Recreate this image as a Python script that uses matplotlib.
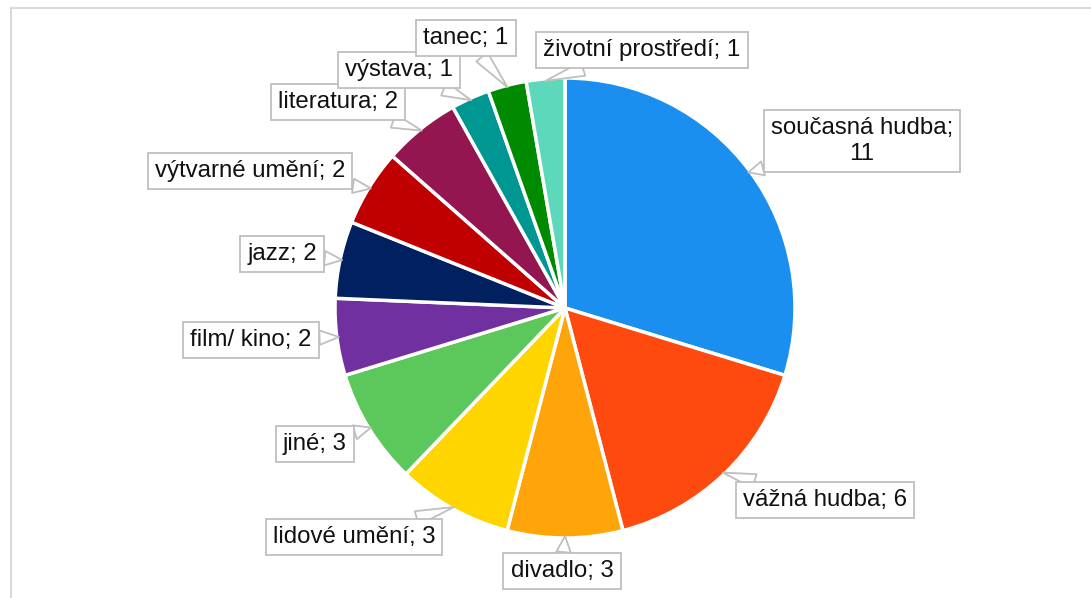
import numpy as np
import matplotlib
import matplotlib.pyplot as plt
from matplotlib.lines import Line2D

matplotlib.use('Agg')
plt.rcParams['font.family'] = ['Liberation Sans', 'DejaVu Sans']

categories = ['současná hudba', 'vážná hudba', 'divadlo', 'lidové umění', 'jiné',
              'film/ kino', 'jazz', 'výtvarné umění', 'literatura', 'výstava',
              'tanec', 'životní prostředí']
counts = [11, 6, 3, 3, 3, 2, 2, 2, 2, 1, 1, 1]
colors = ['#1A8FF0', '#FF4A0F', '#FFA50A', '#FFD500', '#5CC85C', '#7030A0',
          '#00205F', '#C00000', '#941651', '#009692', '#008A00', '#5ED8BA']

# label box centres in pixel coords (from top-left)
label_pos = [(862, 141), (825, 500), (562, 571), (354, 537), (315, 444),
             (251, 340), (282, 254), (250, 171), (338, 102), (399, 70),
             (466, 38), (642, 50)]

W, H = 1091, 598
cx, cy, R = 565, H - 308, 230

fig = plt.figure(figsize=(W / 100, H / 100), dpi=100)
ax = fig.add_axes([0, 0, 1, 1])
wedges, _ = ax.pie(counts, colors=colors, startangle=90, counterclock=False,
                   center=(cx, cy), radius=R,
                   wedgeprops=dict(edgecolor='white', linewidth=2.5))
ax.set_xlim(0, W)
ax.set_ylim(0, H)
ax.set_aspect('equal')
ax.axis('off')

for w, name, val, (lx, ly) in zip(wedges, categories, counts, label_pos):
    mid = np.deg2rad((w.theta1 + w.theta2) / 2)
    tip = (cx + (R - 2) * np.cos(mid), cy + (R - 2) * np.sin(mid))
    txt = f'{name};\n{val}' if name == 'současná hudba' else f'{name}; {val}'
    ax.annotate(txt, xy=tip, xytext=(lx, H - ly), ha='center', va='center',
                fontsize=17.3, color='#111111', multialignment='center',
                linespacing=1.2,
                bbox=dict(boxstyle='square,pad=0.3', fc='white', ec='#BFBFBF', lw=1.3),
                arrowprops=dict(arrowstyle='wedge,tail_width=0.6,shrink_factor=0.5',
                                fc='white', ec='#BFBFBF', lw=1.3,
                                shrinkA=0, shrinkB=0))

# chart frame (cut at right and bottom)
fig.add_artist(Line2D([11.5 / W, 11.5 / W], [0, 1 - 8 / H], transform=fig.transFigure,
                      color='#D9D9D9', lw=1.5))
fig.add_artist(Line2D([11 / W, 1], [1 - 8 / H, 1 - 8 / H], transform=fig.transFigure,
                      color='#D9D9D9', lw=1.5))

fig.savefig('out.png', dpi=100)
